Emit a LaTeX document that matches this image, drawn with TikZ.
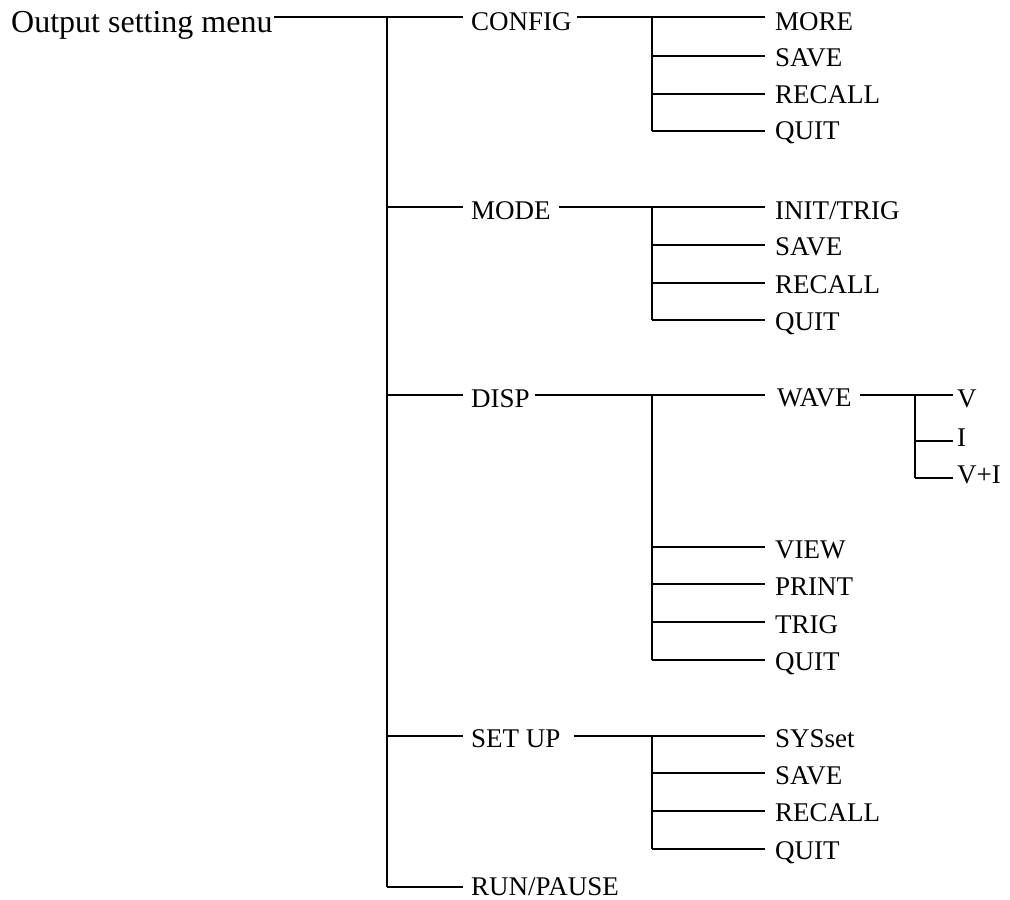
\documentclass[tikz,border=0pt]{standalone}
\usepackage{fontspec}
\setmainfont{Liberation Serif}
\begin{document}
\begin{tikzpicture}[x=1pt,y=-1pt,
  lbl/.style={anchor=base west,inner sep=0pt,font=\fontsize{27}{30}\selectfont},
  rootlbl/.style={anchor=base west,inner sep=0pt,font=\fontsize{32}{36}\selectfont},
  conn/.style={line width=1.4pt},
  vline/.style={line width=1.8pt},
  bold/.style={line width=2.3pt}]
\useasboundingbox (0,0) rectangle (1010,900);

% ---------- root ----------
\node[rootlbl] (root) at (11,32) {Output setting menu};
\coordinate (J0) at (387,17);
\coordinate (J0b) at (387,887);
\coordinate (rootout) at ([xshift=1pt]root.base east);
\coordinate (rootthick) at (287,17);
\draw[conn] (rootout |- J0) -- (J0);
\draw[bold] (rootthick) -- (J0);
\draw[vline] (J0) -- (J0b);

% ---------- level 1 ----------
\node[lbl] (config) at (471,30.5) {CONFIG};
\node[lbl] (mode)   at (471,219) {MODE};
\node[lbl] (disp)   at (471,407) {DISP};
\node[lbl] (setup)  at (471,747) {SET UP};
\node[lbl] (run)    at (471,895.5) {RUN/PAUSE};

\coordinate (configin) at (463,17);
\coordinate (modein)   at (463,207);
\coordinate (dispin)   at (463,395);
\coordinate (setupin)  at (463,736);
\coordinate (runin)    at (463,887);
\draw[conn] (J0 |- configin) -- (configin);
\draw[conn] (J0 |- modein) -- (modein);
\draw[conn] (J0 |- dispin) -- (dispin);
\draw[conn] (J0 |- setupin) -- (setupin);
\draw[conn] (J0b) -- (runin);

% junctions of level 2
\coordinate (JC) at (652,17);
\coordinate (JM) at (652,207);
\coordinate (JD) at (652,395);
\coordinate (JS) at (652,736);

\coordinate (configout) at ([xshift=5pt]config.base east);
\coordinate (modeout)   at ([xshift=8pt]mode.base east);
\coordinate (dispout)   at ([xshift=5pt]disp.base east);
\coordinate (setupout)  at ([xshift=13pt]setup.base east);
\draw[bold] (configout |- JC) -- (JC);
\draw[conn] (modeout |- JM) -- (JM);
\draw[conn] (dispout |- JD) -- (JD);
\draw[conn] (setupout |- JS) -- (JS);

% ---------- CONFIG children ----------
\node[lbl] (c1) at (775,30.5) {MORE};
\node[lbl] (c2) at (775,66.5) {SAVE};
\node[lbl] (c3) at (775,103) {RECALL};
\node[lbl] (c4) at (775,139.5) {QUIT};
\coordinate (c1in) at (765,17);
\coordinate (c2in) at (765,56);
\coordinate (c3in) at (765,94);
\coordinate (c4in) at (765,131);
\draw[vline] (JC) -- (JC |- c4in);
\draw[conn] (JC |- c1in) -- (c1in);
\draw[conn] (JC |- c2in) -- (c2in);
\draw[conn] (JC |- c3in) -- (c3in);
\draw[conn] (JC |- c4in) -- (c4in);

% ---------- MODE children ----------
\node[lbl] (m1) at (775,219) {INIT/TRIG};
\node[lbl] (m2) at (775,255.5) {SAVE};
\node[lbl] (m3) at (775,293) {RECALL};
\node[lbl] (m4) at (775,330) {QUIT};
\coordinate (m1in) at (765,207);
\coordinate (m2in) at (765,245);
\coordinate (m3in) at (765,283);
\coordinate (m4in) at (765,320);
\draw[vline] (JM) -- (JM |- m4in);
\draw[conn] (JM |- m1in) -- (m1in);
\draw[conn] (JM |- m2in) -- (m2in);
\draw[conn] (JM |- m3in) -- (m3in);
\draw[conn] (JM |- m4in) -- (m4in);

% ---------- DISP children ----------
\node[lbl] (wave) at (777,406.5) {WAVE};
\node[lbl] (d2) at (775,558) {VIEW};
\node[lbl] (d3) at (775,595) {PRINT};
\node[lbl] (d4) at (775,633) {TRIG};
\node[lbl] (d5) at (775,670) {QUIT};
\coordinate (wavein) at (765,395);
\coordinate (d2in) at (765,547);
\coordinate (d3in) at (765,584);
\coordinate (d4in) at (765,622);
\coordinate (d5in) at (765,660);
\draw[vline] (JD) -- (JD |- d5in);
\draw[conn] (JD |- wavein) -- (wavein);
\draw[conn] (JD |- d2in) -- (d2in);
\draw[conn] (JD |- d3in) -- (d3in);
\draw[conn] (JD |- d4in) -- (d4in);
\draw[conn] (JD |- d5in) -- (d5in);

% ---------- WAVE children ----------
\coordinate (JW) at (915,395);
\coordinate (waveout) at ([xshift=8pt]wave.base east);
\coordinate (wavethick) at (893,395);
\draw[conn] (waveout |- JW) -- (JW);
\draw[bold] (wavethick) -- (JW);
\node[lbl] (w1) at (957,407) {V};
\node[lbl] (w2) at (957,446) {I};
\node[lbl] (w3) at (957,483) {V+I};
\coordinate (w1in) at (953,395);
\coordinate (w2in) at (953,441);
\coordinate (w3in) at (953,478);
\draw[vline] (JW) -- (JW |- w3in);
\draw[conn] (JW |- w1in) -- (w1in);
\draw[conn] (JW |- w2in) -- (w2in);
\draw[conn] (JW |- w3in) -- (w3in);

% ---------- SET UP children ----------
\node[lbl] (s1) at (775,747) {SYSset};
\node[lbl] (s2) at (775,784) {SAVE};
\node[lbl] (s3) at (775,821.5) {RECALL};
\node[lbl] (s4) at (775,859) {QUIT};
\coordinate (s1in) at (765,736);
\coordinate (s2in) at (765,773);
\coordinate (s3in) at (765,811);
\coordinate (s4in) at (765,849);
\draw[vline] (JS) -- (JS |- s4in);
\draw[conn] (JS |- s1in) -- (s1in);
\draw[conn] (JS |- s2in) -- (s2in);
\draw[conn] (JS |- s3in) -- (s3in);
\draw[conn] (JS |- s4in) -- (s4in);
\end{tikzpicture}
\end{document}
